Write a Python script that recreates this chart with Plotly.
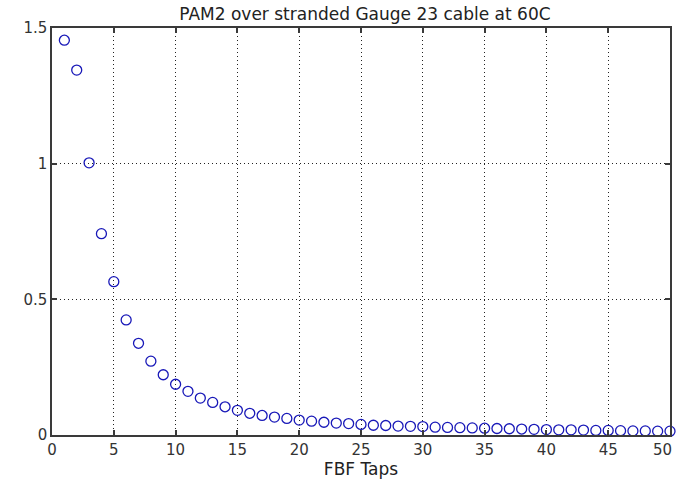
import plotly.graph_objects as go

taps = list(range(1, 51))
coeffs = [1.455, 1.345, 1.003, 0.742, 0.565, 0.424, 0.338, 0.272, 0.222, 0.187,
          0.161, 0.136, 0.120, 0.104, 0.091, 0.080, 0.072, 0.066, 0.061, 0.055,
          0.051, 0.047, 0.044, 0.042, 0.039, 0.036, 0.035, 0.033, 0.032, 0.031,
          0.029, 0.028, 0.027, 0.026, 0.025, 0.024, 0.023, 0.022, 0.021, 0.020,
          0.019, 0.019, 0.018, 0.017, 0.017, 0.016, 0.015, 0.015, 0.014, 0.014]
x_ticks = [0, 5, 10, 15, 20, 25, 30, 35, 40, 45, 50]
x_tick_text = ["0", "5", "10", "15", "20", "25", "30", "35", "40", "45", ""]
y_ticks = [0, 0.5, 1, 1.5]
y_tick_text = ["0", "0.5", "1", "1.5"]

FONT = "DejaVu Sans, Liberation Sans, Arial, sans-serif"

fig = go.Figure()
fig.add_trace(go.Scatter(
    x=taps, y=coeffs, mode="markers",
    marker=dict(symbol="circle-open", size=10, color="#1818b8", line=dict(width=1.3)),
    cliponaxis=False,
))

axis_common = dict(
    showline=True, linecolor="#3a3a3a", linewidth=1.5, mirror="allticks",
    ticks="inside", ticklen=5, tickcolor="#3a3a3a", tickwidth=1.5,
    showgrid=True, gridcolor="#222222", gridwidth=1, griddash="1px,3px",
    zeroline=False, tickfont=dict(size=15, color="#333333", family=FONT),
)

fig.update_layout(
    width=677, height=479,
    margin=dict(l=52, r=5, t=28, b=44),
    paper_bgcolor="white", plot_bgcolor="white",
    font=dict(family=FONT, size=15, color="#222222"),
    showlegend=False,
    title=dict(text="PAM2 over stranded Gauge 23 cable at 60C", x=0.539, xanchor="center",
               y=0.971, yanchor="middle", font=dict(size=17)),
    xaxis=dict(range=[0, 50], tickvals=x_ticks, ticktext=x_tick_text,
               title=dict(text="FBF Taps", standoff=0, font=dict(size=17)), **axis_common),
    yaxis=dict(range=[0, 1.5], tickvals=y_ticks, ticktext=y_tick_text, **axis_common),
    annotations=[dict(text="50", x=1.0, xref="paper", y=0, yref="paper", yanchor="top",
                      xanchor="right", xshift=4, yshift=-4, showarrow=False,
                      font=dict(size=15, color="#333333", family=FONT))],
)

fig.write_html("out.html")
